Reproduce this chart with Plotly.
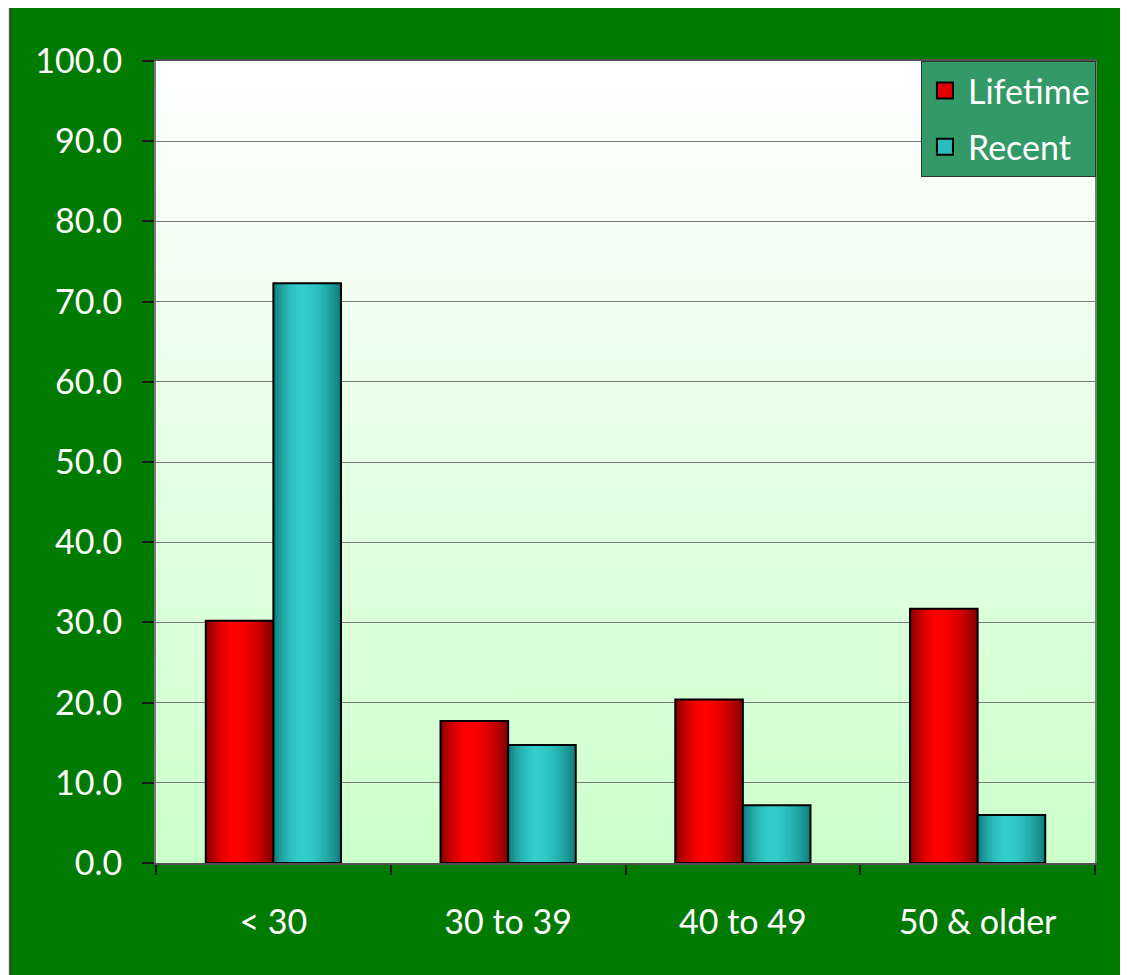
import base64
import plotly.graph_objects as go

categories = ["< 30", "30 to 39", "40 to 49", "50 & older"]
lifetime = [30.2, 17.7, 20.4, 31.7]
recent = [72.3, 14.7, 7.2, 6.0]

FONT = "Lato"
FS = 34
GREEN = "#007A00"
PAGE = 8  # default body margin of the html page
W, H = 1128 - PAGE, 975 - PAGE
L, R, T, B = 156 - PAGE, 33, 61 - PAGE, 112
PW, PH = W - L - R, H - T - B


def px_x(p):
    # page pixel -> paper fraction
    return (p - PAGE - L) / PW


def px_y(p):
    return (PAGE + H - B - p) / PH


def mix(c0, c1, t):
    return "rgb({},{},{})".format(*[round(a + (b - a) * t) for a, b in zip(c0, c1)])


def shade(t, peak=0.42):
    # brightness profile across a bar: dark edges, bright just left of centre
    d = (t - peak) / (peak if t < peak else 1 - peak)
    return max(0.0, 1 - abs(d) ** 1.8)


series = [
    ("Lifetime", lifetime, -0.288, (0x80, 0, 0), (0xFF, 0, 0), "#E00000"),
    ("Recent", recent, 0.0, (0x0E, 0x7C, 0x7B), (0x33, 0xCC, 0xCC), "#2BBDBD"),
]
BAR_W = 0.288
N = 24

fig = go.Figure()

for name, vals, off, dark, bright, solid in series:
    step = BAR_W / N
    # overlapping strips give the horizontal shading of each bar
    for k in range(N):
        t = (k + 0.5) / N
        fig.add_trace(go.Bar(
            x=categories, y=vals,
            offset=off + k * step, width=BAR_W - k * step,
            marker=dict(color=mix(dark, bright, shade(t)), line=dict(width=0)),
            showlegend=False, hoverinfo="skip",
        ))
    # black outline on top
    fig.add_trace(go.Bar(
        x=categories, y=vals, name=name,
        offset=off, width=BAR_W,
        marker=dict(color="rgba(0,0,0,0)", line=dict(color="black", width=2)),
        showlegend=False,
    ))

# legend-only entries (also keep the label axis alive)
for i, (name, vals, off, dark, bright, solid) in enumerate(series):
    fig.add_trace(go.Scatter(
        x=categories, y=[None] * len(categories), name=name, yaxis="y2",
        mode="markers", legendgroup=f"g{i}",
        marker=dict(symbol="square", size=16, color=solid,
                    line=dict(color="black", width=2)),
    ))

grad_svg = (
    '<svg xmlns="http://www.w3.org/2000/svg" width="100" height="100" preserveAspectRatio="none">'
    '<defs><linearGradient id="g" x1="0" y1="0" x2="0" y2="1">'
    '<stop offset="0" stop-color="#FFFFFF"/><stop offset="1" stop-color="#CCFFCC"/>'
    '</linearGradient></defs><rect width="100" height="100" fill="url(#g)"/></svg>'
)
grad_uri = "data:image/svg+xml;base64," + base64.b64encode(grad_svg.encode()).decode()

fig.update_layout(
    width=W, height=H,
    margin=dict(l=L, r=R, t=T, b=B),
    paper_bgcolor=GREEN,
    plot_bgcolor="rgba(0,0,0,0)",
    barmode="overlay",
    font=dict(family=FONT, color="white", size=FS),
    images=[dict(
        source=grad_uri, xref="paper", yref="paper", x=0, y=1,
        sizex=1, sizey=1, sizing="stretch", layer="below",
        xanchor="left", yanchor="top",
    )],
    shapes=[
        dict(type="rect", xref="paper", yref="paper", layer="below",
             x0=px_x(0), x1=px_x(10), y0=px_y(975 + 5), y1=px_y(0),
             fillcolor="#DDE2EA", line=dict(width=0)),
        dict(type="line", xref="paper", yref="paper", layer="below",
             x0=px_x(10), x1=px_x(10), y0=px_y(975 + 5), y1=px_y(7),
             line=dict(color="#333333", width=1.5)),
    ],
    legend=dict(
        x=1.001, y=1, xanchor="right", yanchor="top",
        bgcolor="#339966", bordercolor="#333333", borderwidth=1,
        font=dict(family=FONT, size=FS, color="white"),
        traceorder="grouped", tracegroupgap=9, itemwidth=36,
    ),
    showlegend=True,
    # second y axis only carries the labels, pushed out by invisible ticks
    yaxis2=dict(
        overlaying="y", side="left", range=[0, 100], dtick=10, tickformat=".1f",
        showgrid=False, showline=False, zeroline=False,
        ticks="outside", ticklen=26, tickcolor="rgba(0,0,0,0)",
        tickfont=dict(family=FONT, size=FS, color="white"),
    ),
)

fig.update_layout(yaxis=dict(
    range=[0, 100], dtick=10, showticklabels=False,
    showgrid=True, gridcolor="#7A7A7A", gridwidth=1,
    showline=True, linecolor="#7A7A7A", linewidth=2, mirror=True,
    ticks="outside", ticklen=12, tickcolor="#1A1A1A", tickwidth=2,
    zeroline=False,
))
fig.update_xaxes(
    type="category", showgrid=False,
    showline=True, linecolor="#505050", linewidth=2, mirror=True,
    ticks="outside", tickson="boundaries", ticklen=10, tickcolor="#1A1A1A", tickwidth=2,
    ticklabelstandoff=28,
    tickfont=dict(family=FONT, size=FS, color="white"),
)

fig.write_html("out.html")
